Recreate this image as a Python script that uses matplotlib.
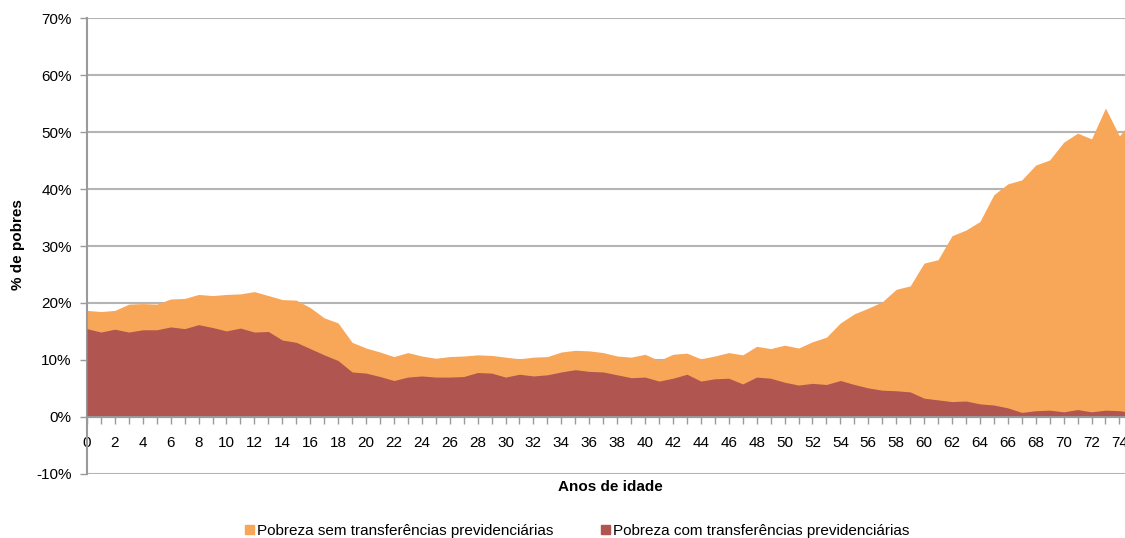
import numpy as np
import matplotlib
matplotlib.use('Agg')
import matplotlib.pyplot as plt
from matplotlib.patches import Patch
from matplotlib.ticker import MultipleLocator, FuncFormatter

plt.rcParams['font.family'] = ['Liberation Sans', 'DejaVu Sans']

# ── Data ─────────────────────────────────────────────────────────────────────
idade = np.arange(0, 76)

pobreza_sem = [18.7, 18.5, 18.7, 19.8, 19.9, 19.8, 20.7, 20.8, 21.5, 21.3,
               21.5, 21.6, 22.0, 21.3, 20.6, 20.5, 19.2, 17.4, 16.5, 13.1,
               12.1, 11.4, 10.6, 11.3, 10.7, 10.3, 10.6, 10.7, 10.9, 10.8,
               10.5, 10.2, 10.5, 10.6, 11.4, 11.7, 11.6, 11.3, 10.7, 10.5,
               11.0, 9.9, 11.0, 11.2, 10.2, 10.7, 11.3, 10.9, 12.4, 12.0,
               12.6, 12.1, 13.2, 14.0, 16.5, 18.1, 19.1, 20.2, 22.4, 23.0,
               27.0, 27.6, 31.8, 32.8, 34.3, 39.0, 40.9, 41.6, 44.2, 45.1,
               48.2, 49.8, 48.8, 54.2, 49.3, 52.5]

pobreza_com = [15.5, 14.9, 15.4, 14.9, 15.3, 15.3, 15.8, 15.5, 16.2, 15.7,
               15.1, 15.6, 14.9, 15.0, 13.5, 13.1, 12.0, 10.9, 9.9, 7.9,
               7.7, 7.1, 6.4, 7.0, 7.2, 7.0, 7.0, 7.1, 7.8, 7.7,
               7.0, 7.5, 7.2, 7.4, 7.9, 8.3, 8.0, 7.9, 7.4, 6.9,
               7.0, 6.3, 6.8, 7.5, 6.3, 6.7, 6.8, 5.8, 7.0, 6.8,
               6.1, 5.6, 5.9, 5.7, 6.4, 5.7, 5.1, 4.7, 4.6, 4.4,
               3.3, 3.0, 2.7, 2.8, 2.3, 2.1, 1.6, 0.8, 1.1, 1.2,
               0.9, 1.3, 0.9, 1.2, 1.1, 0.8]

lbl_sem = 'Pobreza sem transferências previdenciárias'
lbl_com = 'Pobreza com transferências previdenciárias'

c_sem = '#F8A759'
c_com = '#B0554F'
c_axis = '#9a9a9a'
c_grid = '#b4b4b4'

# ── Figure ───────────────────────────────────────────────────────────────────
fig = plt.figure(figsize=(11.25, 5.38), dpi=100)
ax = fig.add_axes([0.0773, 0.119, 0.9227, 0.8475])

ax.fill_between(idade, 0, pobreza_sem, color=c_sem, lw=0, zorder=2)
ax.fill_between(idade, 0, pobreza_com, color=c_com, lw=0, zorder=3)

ax.set_xlim(0, 74.4)
ax.set_ylim(-10, 70)

ax.yaxis.set_major_locator(MultipleLocator(10))
ax.yaxis.set_major_formatter(FuncFormatter(lambda v, p: f'{v:.0f}%'))
ax.grid(axis='y', color=c_grid, lw=1.5, zorder=1)
ax.set_axisbelow(True)

ax.xaxis.set_major_locator(MultipleLocator(2))
ax.xaxis.set_minor_locator(MultipleLocator(1))

for s in ['top', 'right']:
    ax.spines[s].set_visible(False)
ax.spines['left'].set_color(c_axis)
ax.spines['left'].set_linewidth(1.5)
ax.spines['bottom'].set_position(('data', 0))
ax.spines['bottom'].set_color(c_axis)
ax.spines['bottom'].set_linewidth(1.5)
ax.spines['bottom'].set_zorder(4)

ax.tick_params(axis='y', direction='out', length=5, width=1, color=c_axis,
               labelsize=11, pad=6, labelcolor='black')
ax.tick_params(axis='x', which='both', direction='out', length=5, width=1,
               color=c_axis, labelsize=11, pad=9, labelcolor='black')

fig.text(0.543, 0.094, 'Anos de idade', ha='center', va='center',
         fontsize=11, fontweight='bold')
fig.text(0.016, 0.545, '% de pobres', ha='center', va='center',
         rotation=90, fontsize=11, fontweight='bold')

handles = [Patch(color=c_sem, label=lbl_sem), Patch(color=c_com, label=lbl_com)]
fig.legend(handles=handles, loc='center', bbox_to_anchor=(0.513, 0.013),
           ncol=2, frameon=False, fontsize=11, handlelength=0.6,
           handleheight=0.6, handletextpad=0.2, columnspacing=3.1)

plt.savefig('out.png', dpi=100)
